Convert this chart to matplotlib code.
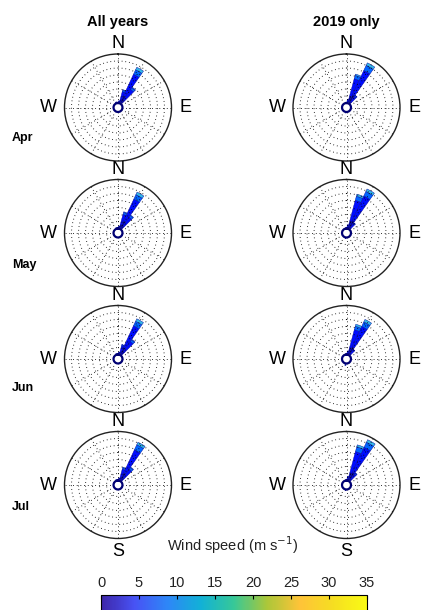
import numpy as np
import matplotlib
matplotlib.use("Agg")
import matplotlib.pyplot as plt
from matplotlib.colors import LinearSegmentedColormap, Normalize
from matplotlib.cm import ScalarMappable

plt.rcParams['font.family'] = ['Liberation Sans', 'DejaVu Sans']

# wind rose data: frequency (%) per direction bin, split by speed class
months = ["Apr", "May", "Jun", "Jul"]
columns = ["All years", "2019 only"]
speed_edges = [0, 2, 6, 10, 14]
speed_colors = [(0.0, 0.0, 0.6), (0.0, 0.05, 1.0), (0.0, 0.4, 1.0), (0.2, 0.72, 0.9)]

dirs_all = [340, 10, 20, 30, 40]
dirs_2019 = [190, 10, 20, 30, 40]

apr_all = [[0.5, 0.3, 0.0, 0.2], [0.5, 0.8, 0.2, 0.0], [2.5, 6.0, 1.0, 0.5],
           [6.0, 17.0, 3.5, 2.0], [3.5, 9.0, 1.5, 0.5]]
apr_2019 = [[0.3, 0.3, 0.0, 0.2], [0.8, 1.4, 0.3, 0.0], [5.0, 13.0, 2.5, 1.0],
            [7.0, 19.0, 4.0, 2.0], [2.0, 4.5, 0.8, 0.2]]
may_all = [[0.3, 0.3, 0.0, 0.2], [0.6, 1.0, 0.2, 0.0], [3.0, 7.5, 1.5, 0.5],
           [6.5, 17.0, 3.5, 2.0], [3.0, 7.5, 1.5, 0.5]]
may_2019 = [[0.3, 0.3, 0.0, 0.2], [0.8, 1.5, 0.3, 0.0], [6.0, 15.0, 3.0, 1.5],
            [7.0, 19.0, 3.5, 2.0], [1.5, 3.5, 0.6, 0.2]]
jun_all = [[0.3, 0.3, 0.0, 0.2], [0.5, 0.8, 0.2, 0.0], [2.0, 4.5, 0.8, 0.2],
           [6.0, 17.0, 3.5, 2.0], [3.5, 8.5, 1.5, 0.5]]
jun_2019 = [[0.5, 0.3, 0.3, 0.4], [0.8, 1.4, 0.3, 0.0], [5.0, 13.5, 2.5, 1.5],
            [6.5, 16.0, 3.5, 2.0], [1.5, 3.0, 0.5, 0.2]]
jul_all = [[0.3, 0.3, 0.0, 0.2], [0.6, 1.0, 0.2, 0.0], [2.5, 6.0, 1.0, 0.5],
           [6.5, 18.0, 4.0, 2.0], [3.0, 7.5, 1.5, 0.5]]
jul_2019 = [[0.3, 0.3, 0.0, 0.2], [1.0, 1.5, 0.3, 0.0], [6.0, 15.5, 3.5, 1.5],
            [7.0, 19.5, 4.0, 2.0], [2.0, 4.5, 0.8, 0.2]]

panels = [[apr_all, apr_2019], [may_all, may_2019],
          [jun_all, jun_2019], [jul_all, jul_2019]]
panel_dirs = [dirs_all, dirs_2019]

# parula-like colormap for the colorbar
parula = LinearSegmentedColormap.from_list("parula", [
    (0.2422, 0.1504, 0.6603), (0.2810, 0.3228, 0.9579), (0.1786, 0.5289, 0.9682),
    (0.0689, 0.6948, 0.8394), (0.2161, 0.7843, 0.5923), (0.6720, 0.7793, 0.2227),
    (0.9970, 0.7659, 0.2199), (0.9626, 0.8705, 0.1309), (0.9769, 0.9839, 0.0805)])

W, H = 422, 610
fig = plt.figure(figsize=(W / 100, H / 100), dpi=100)

R = 53.5
hole = 3.2
rmax = 35 + hole
cxs = [118, 346.5]
cys = [107.5, 233, 359, 485]
label_ys = [138, 265, 388, 507]

for i, row in enumerate(panels):
    for j, data in enumerate(row):
        cx, cy = cxs[j], cys[i]
        ax = fig.add_axes([(cx - R) / W, 1 - (cy + R) / H, 2 * R / W, 2 * R / H],
                          projection='polar')
        ax.set_theta_zero_location('N')
        ax.set_theta_direction(-1)
        ax.set_ylim(0, rmax)
        ax.grid(False)
        ax.set_xticks([])
        ax.set_yticks([])
        ax.spines['polar'].set_color('#222222')
        ax.spines['polar'].set_linewidth(1.0)
        ax.patch.set_alpha(0)

        theta = np.deg2rad(panel_dirs[j])
        bottom = np.full(len(theta), hole)
        vals = np.array(data)
        for k in range(vals.shape[1]):
            ax.bar(theta, vals[:, k], width=np.deg2rad(10), bottom=bottom,
                   color=speed_colors[k], edgecolor=(0, 0, 0.6), linewidth=0.3, zorder=2)
            bottom = bottom + vals[:, k]

        t = np.linspace(0, 2 * np.pi, 360)
        for rr in range(5, 35, 5):
            ax.plot(t, np.full_like(t, rr + hole), color='black', lw=0.7,
                    dashes=(0.8, 3.0), zorder=3)
        for a in range(0, 360, 30):
            ax.plot([np.deg2rad(a)] * 2, [hole, rmax], color='black', lw=0.7,
                    dashes=(0.8, 3.0), zorder=3)
        ax.fill(t, np.full_like(t, hole), color='white', zorder=4)
        ax.plot(t, np.full_like(t, hole), color=(0, 0, 0.45), lw=1.6, zorder=5)

        fs = 13
        fig.text(cx / W, 1 - (cy - R - 10.5) / H, "N", ha='center', va='center', fontsize=fs)
        fig.text((cx + R + 14) / W, 1 - cy / H, "E", ha='center', va='center', fontsize=fs)
        fig.text((cx - R - 16) / W, 1 - cy / H, "W", ha='center', va='center', fontsize=fs)
        if i == len(panels) - 1:
            fig.text(cx / W, 1 - (cy + R + 13.5) / H, "S", ha='center', va='center', fontsize=fs)

    fig.text(12 / W, 1 - label_ys[i] / H, months[i], ha='left', va='center',
             fontsize=9, fontweight='bold')

for j, title in enumerate(columns):
    fig.text(cxs[j] / W, 1 - 22 / H, title, ha='center', va='center',
             fontsize=10.5, fontweight='bold')

cax = fig.add_axes([101 / W, 1 - 618 / H, 266 / W, 23 / H])
sm = ScalarMappable(norm=Normalize(0, 35), cmap=parula)
cb = fig.colorbar(sm, cax=cax, orientation='horizontal')
cb.set_ticks(range(0, 40, 5))
cax.xaxis.set_ticks_position('top')
cax.xaxis.set_label_position('top')
cax.tick_params(direction='in', length=3, labelsize=10.5, colors='black', labelcolor='#222222')
cb.outline.set_linewidth(0.8)
fig.text(233 / W, 1 - 545 / H, "Wind speed (m s$^{-1}$)", ha='center', va='center',
         fontsize=10.5, color='#222222')

fig.savefig("out.png", dpi=100)
